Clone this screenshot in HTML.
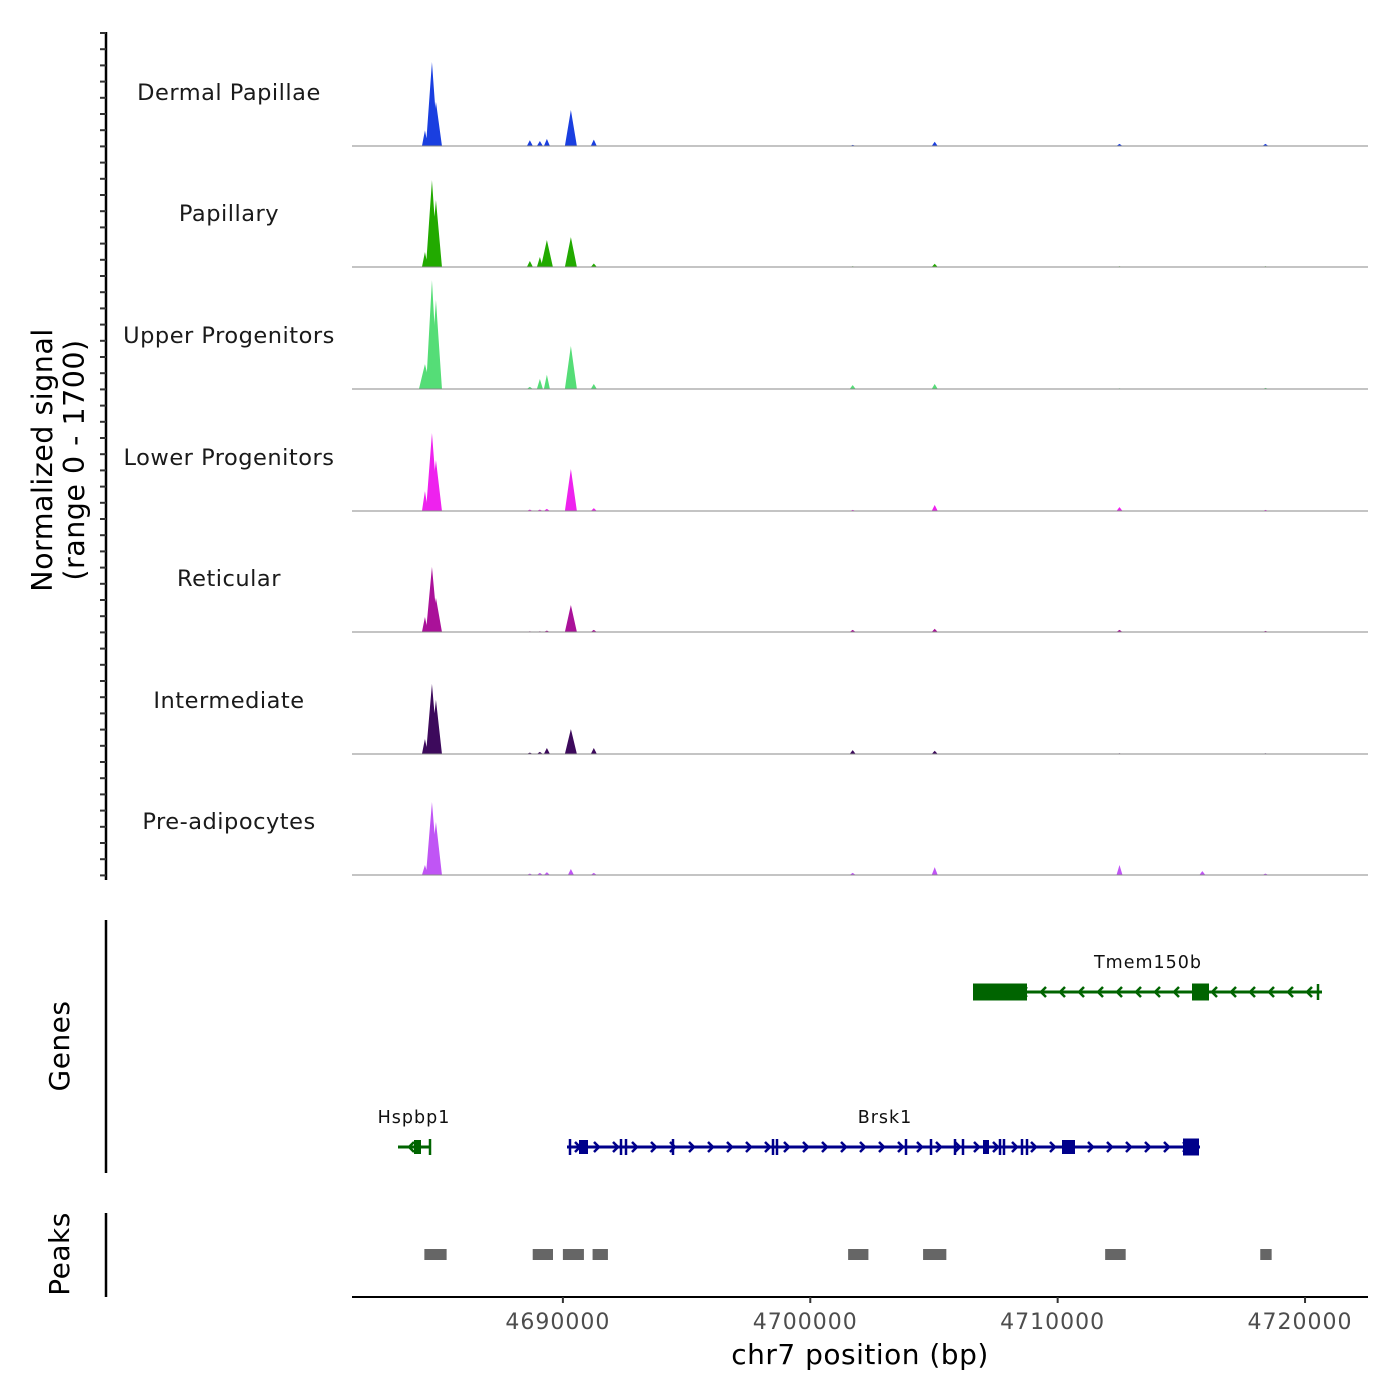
<!DOCTYPE html>
<html><head><meta charset="utf-8"><style>
body{margin:0;background:#fff}
svg{display:block;font-family:"DejaVu Sans","Liberation Sans",sans-serif}
</style></head><body>
<svg id="chart" width="1400" height="1400" viewBox="0 0 1400 1400" xmlns="http://www.w3.org/2000/svg">
<g id="tracks"></g>
<g id="genes"></g>
<g id="peaks"></g>
<g id="axes"></g>
</svg>
<script>
const trackNames = ["Dermal Papillae","Papillary","Upper Progenitors","Lower Progenitors","Reticular","Intermediate","Pre-adipocytes"];
const trackColors = ["#1a3fe0","#22aa00","#55dd77","#ee22ee","#aa1199","#3d0a5c","#c055f5"];
const peakPos = [4684424,4684707,4684869,4688665,4689070,4689353,4690323,4691250,4701715,4705030,4712500,4715850,4718400];
const trackHeights = [
 [220,1180,620,80,70,100,505,90,15,60,30,0,30],
 [210,1220,940,85,140,380,420,50,10,45,10,0,10],
 [350,1530,1250,30,140,200,605,70,55,70,10,0,15],
 [280,1095,715,20,20,30,590,40,15,85,55,0,15],
 [210,915,480,10,10,20,380,30,30,45,30,0,15],
 [210,985,760,20,30,85,350,85,55,45,10,0,10],
 [140,1025,745,20,30,40,85,30,30,110,140,55,20]
];
const xTicks = [4690000,4700000,4710000,4720000];
const peakStarts = [4684400,4688780,4690000,4691200,4701530,4704560,4711920,4718190];
const peakEnds = [4685300,4689600,4690850,4691820,4702350,4705500,4712750,4718650];
const NS="http://www.w3.org/2000/svg";
const X0=352,X1=1368,BP0=4681475,BP1=4722545;
const x=bp=>X0+(bp-BP0)/(BP1-BP0)*(X1-X0);
const baselines=[146,267,389,511,632,754,875];
const yScale=v=>v/1700*121;
function el(tag,attrs,parent,text){const e=document.createElementNS(NS,tag);for(const k in attrs)e.setAttribute(k,attrs[k]);if(text!==undefined)e.textContent=text;parent.appendChild(e);return e;}
const tg=document.getElementById('tracks');
trackNames.forEach((name,i)=>{
 const g=el('g',{},tg);
 
 
 const b=baselines[i];
 peakPos.forEach((p,j)=>{
  const h=yScale(trackHeights[i][j]); if(h<=0)return;
  const w=h>20?6:3;
  const cx=x(p);
  const poly=el('polygon',{points:`${cx-w},${b} ${cx-w*0.5},${b-h*0.5} ${cx-w*0.15},${b-h*0.85} ${cx},${b-h} ${cx+w*0.3},${b-h*0.7} ${cx+w*0.7},${b-h*0.3} ${cx+w},${b}`,fill:trackColors[i]},g);
  
  
 });
 const ln=el('line',{x1:X0,x2:X1,y1:b,y2:b,stroke:'#888','stroke-width':1},g);
 
 
 const t=el('text',{x:229,y:b-46,'text-anchor':'middle','font-size':22.5,fill:'#1a1a1a','letter-spacing':'0.5'},g,name);
 
 
});
const gg=document.getElementById('genes');
function gene(name,color,start,end,y,strand,blocks,ticks,lx){
 const g=el('g',{},gg);
 
 
 el('line',{x1:start,x2:end,y1:y,y2:y,stroke:color,'stroke-width':3},g);
 blocks.forEach(b=>el('rect',{x:b[0],y:y-b[2]/2,width:b[1]-b[0],height:b[2],fill:color},g));
 ticks.forEach(t=>el('line',{x1:t,x2:t,y1:y-8,y2:y+8,stroke:color,'stroke-width':2.5},g));
 for(let ax=start+12;ax<end-6;ax+=19){
  const d=strand>0?`M${ax-4},${y-5} L${ax+1},${y} L${ax-4},${y+5}`:`M${ax+4},${y-5} L${ax-1},${y} L${ax+4},${y+5}`;
  el('path',{d:d,stroke:color,'stroke-width':2.5,fill:'none'},g);
 }
 const t=el('text',{x:lx,y:y-24,'text-anchor':'middle','font-size':17.5,fill:'#111','letter-spacing':'1'},g,name);
 
 
}
gene('Tmem150b','#006400',973,1322,992,-1,[[973,1027,17],[1192,1209,17]],[1318],1148);
gene('Hspbp1','#006400',398,430,1147,-1,[[414,421,14]],[430],414);
gene('Brsk1','#00008b',567,1200,1147,1,[[579,588,14],[983,989,14],[1062,1075,14],[1183,1199,17]],[570,621,626,673,773,777,906,931,955,963,1000,1004,1022,1027],885);
const pg=document.getElementById('peaks');
peakStarts.forEach((s,i)=>{
 const r=el('rect',{x:x(s),y:1249,width:x(peakEnds[i])-x(s),height:11,fill:'#666'},pg);
 
 
});
const ag=document.getElementById('axes');
const xa=el('line',{x1:X0,x2:X1,y1:1297,y2:1297,stroke:'#000','stroke-width':2},ag);


xTicks.forEach(v=>{
 el('line',{x1:x(v),x2:x(v),y1:1297,y2:1303,stroke:'#333','stroke-width':2},ag);
 const t=el('text',{x:x(v)-5,y:1329,'text-anchor':'middle','font-size':22,fill:'#4d4d4d','letter-spacing':'1'},ag,String(v));
 
 
});
const xt=el('text',{x:860,y:1364,'text-anchor':'middle','font-size':28,fill:'#000','letter-spacing':'0.5'},ag,'chr7 position (bp)');


[[32,880],[920,1173],[1213,1297]].forEach(s=>el('line',{x1:106,x2:106,y1:s[0],y2:s[1],stroke:'#000','stroke-width':2.5},ag));
for(let ty=33;ty<=878;ty+=16.2) el('line',{x1:100,x2:106,y1:ty,y2:ty,stroke:'#333','stroke-width':2},ag);
const yt=el('text',{transform:'translate(52,460) rotate(-90)','text-anchor':'middle','font-size':28.5,fill:'#000','letter-spacing':'0.5'},ag);


el('tspan',{x:0,dy:0},yt,'Normalized signal');
el('tspan',{x:0,dy:32},yt,'(range 0 - 1700)');
const gt=el('text',{transform:'translate(69,1046) rotate(-90)','text-anchor':'middle','font-size':28,fill:'#000','letter-spacing':'0.5'},ag,'Genes');


const pt=el('text',{transform:'translate(69,1254) rotate(-90)','text-anchor':'middle','font-size':28,fill:'#000','letter-spacing':'0.5'},ag,'Peaks');


</script>
</body></html>
